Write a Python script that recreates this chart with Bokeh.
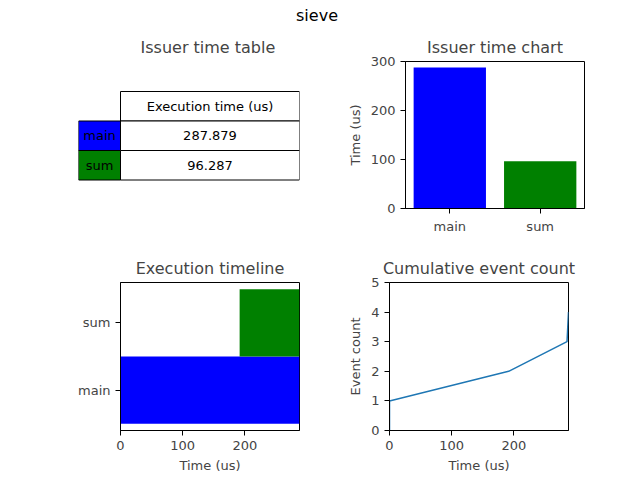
from bokeh.plotting import figure
from bokeh.models import Range1d, Div, FixedTicker
from bokeh.layouts import column, row
from bokeh.embed import file_html
from bokeh.resources import INLINE

issuers = ["main", "sum"]
exec_times = [287.879, 96.287]
issuer_colors = ["blue", "green"]
timeline_start = [0.0, 191.592]
timeline_end = [287.879, 287.879]
event_times = [0.0, 0.0, 191.592, 285.5, 287.879]
event_counts = [0, 1, 2, 3, 4]

FONT = "DejaVu Sans"


def style(p, title=None):
    p.toolbar_location = None
    p.grid.visible = False
    p.outline_line_color = "black"
    p.background_fill_color = "white"
    p.border_fill_color = "white"
    if title:
        p.title.text = title
        p.title.text_font = FONT
        p.title.text_font_size = "16px"
        p.title.text_font_style = "normal"
        p.title.align = "center"
    for ax in p.axis:
        ax.major_label_text_font = FONT
        ax.major_label_text_font_size = "13px"
        ax.axis_label_text_font = FONT
        ax.axis_label_text_font_size = "13px"
        ax.axis_label_text_font_style = "normal"
        ax.minor_tick_line_color = None
        ax.major_tick_out = 5
        ax.major_tick_in = 0
        ax.axis_line_color = "black"


# --- table ---
t = figure(width=344, height=214, frame_width=221, frame_height=147,
           x_range=Range1d(86, 307), y_range=Range1d(205, 58),
           output_backend="svg", toolbar_location=None,
           min_border_left=78, min_border_right=45, min_border_top=30, min_border_bottom=37)
style(t, "Issuer time table")
t.title.align = "left"
t.title.offset = 62
t.axis.visible = False
t.outline_line_color = None
row_h = 29.5
top0 = 88
t.quad(left=[128], right=[307], top=[top0], bottom=[top0 + row_h],
       fill_color="white", line_color="black")
t.text(x=[217.5], y=[top0 + row_h / 2], text=["Execution time (us)"],
       text_align="center", text_baseline="middle", text_font_size="13px",
       text_font={"value": FONT})
tops = [top0 + row_h * (i + 1) for i in range(len(issuers))]
bots = [v + row_h for v in tops]
mids = [v + row_h / 2 for v in tops]
t.quad(left=[86] * 2, right=[128] * 2, top=tops, bottom=bots,
       fill_color=issuer_colors, line_color="black")
t.quad(left=[128] * 2, right=[307] * 2, top=tops, bottom=bots,
       fill_color="white", line_color="black")
t.text(x=[107] * 2, y=mids, text=issuers, text_align="center", text_baseline="middle",
       text_font_size="13px", text_font={"value": FONT})
t.text(x=[217.5] * 2, y=mids, text=[f"{v:.3f}" for v in exec_times], text_align="center",
       text_baseline="middle", text_font_size="13px", text_font={"value": FONT})

# --- bar chart ---
b = figure(frame_width=179, frame_height=147, x_range=Range1d(-0.49, 1.49),
           y_range=Range1d(0, 300), output_backend="svg", toolbar_location=None,
           min_border_left=45, min_border_right=56, min_border_top=30, min_border_bottom=37)
style(b, "Issuer time chart")
b.vbar(x=list(range(len(issuers))), top=exec_times, width=0.8,
       fill_color=issuer_colors, line_color=None)
b.xaxis.ticker = FixedTicker(ticks=[0, 1])
b.xaxis.major_label_overrides = {0: "main", 1: "sum"}
b.yaxis.ticker = FixedTicker(ticks=[0, 100, 200, 300])
b.yaxis.axis_label = "Time (us)"

# --- timeline ---
tl = figure(frame_width=179, frame_height=148, x_range=Range1d(0, 287.879),
            y_range=Range1d(-0.6, 1.6), output_backend="svg", toolbar_location=None,
            min_border_left=120, min_border_right=45, min_border_top=37, min_border_bottom=45)
style(tl, "Execution timeline")
ys = list(range(len(issuers)))
tl.quad(left=timeline_start, right=timeline_end,
        bottom=[y - 0.5 for y in ys], top=[y + 0.5 for y in ys],
        fill_color=issuer_colors, line_color=None)
tl.yaxis.ticker = FixedTicker(ticks=[0, 1])
tl.yaxis.major_label_overrides = {0: "main", 1: "sum"}
tl.xaxis.ticker = FixedTicker(ticks=[0, 100, 200])
tl.xaxis.axis_label = "Time (us)"

# --- cumulative ---
c = figure(frame_width=179, frame_height=148, x_range=Range1d(0, 287.879),
           y_range=Range1d(0, 5), output_backend="svg", toolbar_location=None,
           min_border_left=45, min_border_right=56, min_border_top=37, min_border_bottom=45)
style(c, "Cumulative event count")
c.line(event_times, event_counts, line_color="#1f77b4", line_width=1.5)
c.xaxis.ticker = FixedTicker(ticks=[0, 100, 200])
c.yaxis.ticker = FixedTicker(ticks=[0, 1, 2, 3, 4, 5])
c.xaxis.axis_label = "Time (us)"
c.yaxis.axis_label = "Event count"

head = Div(text="sieve", width=624, height=20,
           styles={"text-align": "center", "font-size": "16px", "font-family": FONT})

p = column(head, row(t, b), row(tl, c))
open("out.html", "w").write(file_html(p, INLINE))
